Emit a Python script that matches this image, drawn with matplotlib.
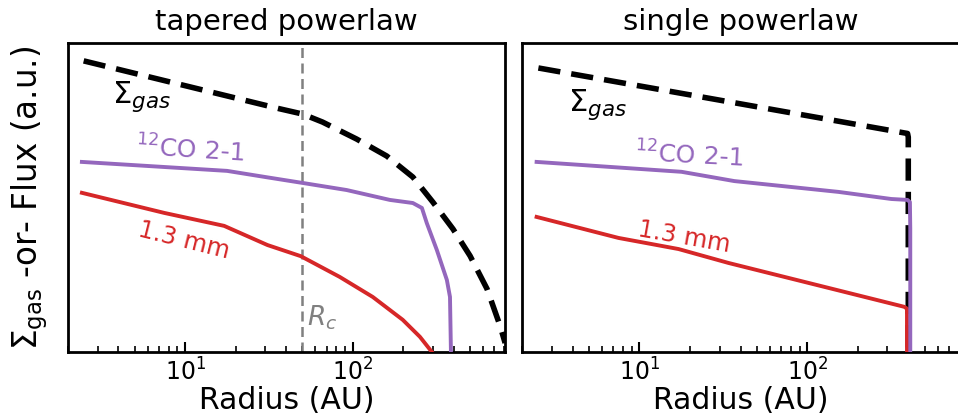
import matplotlib
matplotlib.use("Agg")
import matplotlib.pyplot as plt

# radii in AU, profile heights in arbitrary units (0 = bottom, 1 = top of panel)
tap_gas_r = [2.48, 36.6, 50.2, 66.1, 105.6, 159.8, 228.7, 301, 397, 502, 634, 759, 813]
tap_gas_y = [0.942, 0.787, 0.770, 0.744, 0.689, 0.634, 0.566, 0.485, 0.398, 0.311, 0.204,
             0.084, 0.029]
tap_co_r = [2.42, 17.8, 31.0, 50.2, 92.1, 166.7, 228.7, 259, 277, 318, 365, 381, 386]
tap_co_y = [0.615, 0.586, 0.565, 0.547, 0.524, 0.492, 0.482, 0.466, 0.417, 0.330, 0.233,
            0.178, 0.0]
tap_mm_r = [2.42, 7.5, 17.1, 31.0, 49.0, 83.6, 131.8, 199, 252, 297]
tap_mm_y = [0.515, 0.450, 0.408, 0.346, 0.310, 0.243, 0.178, 0.104, 0.049, 0.0]
r_c = 50

sgl_gas_r = [2.5, 395, 399, 399]
sgl_gas_y = [0.919, 0.707, 0.695, 0.0]
sgl_co_r = [2.44, 17.8, 36.7, 153, 316, 395, 408, 410, 410]
sgl_co_y = [0.615, 0.583, 0.553, 0.518, 0.495, 0.492, 0.485, 0.40, 0.0]
sgl_mm_r = [2.44, 7.5, 17.1, 33.9, 378, 392, 392]
sgl_mm_y = [0.437, 0.369, 0.333, 0.288, 0.146, 0.140, 0.0]

RED = "#d62728"
PURPLE = "#9467bd"

fig = plt.figure(figsize=(9.58, 4.17), dpi=100)
ax1 = fig.add_axes([0.071, 0.156, 0.456, 0.741])
ax2 = fig.add_axes([0.545, 0.156, 0.457, 0.741])


def style(ax, title):
    ax.set_xscale("log")
    ax.set_xlim(2.0, 810)
    ax.set_ylim(0, 1)
    ax.set_yticks([])
    for s in ax.spines.values():
        s.set_linewidth(2.0)
    ax.tick_params(axis="x", which="major", direction="in", length=7, width=1.5,
                   labelsize=17, top=False, pad=5)
    ax.tick_params(axis="x", which="minor", direction="in", length=4, width=1.2, top=False)
    ax.set_title(title, fontsize=21, pad=9)
    ax.set_xlabel("Radius (AU)", fontsize=21.5, labelpad=0)


# tapered powerlaw
ax1.axvline(r_c, color="gray", ls="--", lw=1.8, dashes=(4, 2.2))
ax1.plot(tap_gas_r, tap_gas_y, color="black", ls="--", lw=4.0, dashes=(4.0, 2.0))
ax1.plot(tap_co_r, tap_co_y, color=PURPLE, lw=2.8, zorder=3)
ax1.plot(tap_mm_r, tap_mm_y, color=RED, lw=2.8, zorder=3)
ax1.text(5.5, 0.825, r"$\Sigma_{gas}$", fontsize=22, ha="center", va="center")
ax1.text(10.7, 0.654, r"$^{12}$CO 2-1", fontsize=18, color=PURPLE, ha="center",
         va="center", rotation=-3.5)
ax1.text(9.9, 0.362, "1.3 mm", fontsize=17.5, color=RED, ha="center", va="center",
         rotation=-14)
ax1.text(53.5, 0.11, r"$R_c$", fontsize=19, color="gray", ha="left", va="center")
ax1.set_ylabel(r"$\Sigma_{\rm gas}$ -or- Flux (a.u.)", fontsize=23.5, labelpad=13)
style(ax1, "tapered powerlaw")

# single powerlaw
ax2.plot(sgl_gas_r, sgl_gas_y, color="black", ls="--", lw=4.0, dashes=(4.0, 2.0))
ax2.plot(sgl_mm_r, sgl_mm_y, color=RED, lw=2.8, zorder=3)
ax2.plot(sgl_co_r, sgl_co_y, color=PURPLE, lw=2.8, zorder=4)
ax2.text(5.6, 0.80, r"$\Sigma_{gas}$", fontsize=22, ha="center", va="center")
ax2.text(19.8, 0.635, r"$^{12}$CO 2-1", fontsize=18, color=PURPLE, ha="center",
         va="center", rotation=-3)
ax2.text(18.5, 0.372, "1.3 mm", fontsize=17.5, color=RED, ha="center", va="center",
         rotation=-10)
style(ax2, "single powerlaw")

fig.savefig("out.png", dpi=100)
